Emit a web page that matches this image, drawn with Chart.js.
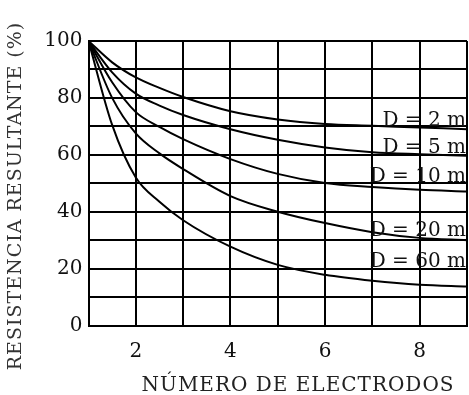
<!DOCTYPE html>
<html>
<head>
<meta charset="utf-8">
<script src="https://cdn.jsdelivr.net/npm/chart.js@4/dist/chart.umd.min.js"></script>
<style>
  html, body { margin: 0; padding: 0; background: #fff; }
  #wrap { width: 469px; height: 395px; position: relative; }
</style>
</head>
<body>
<div id="wrap"><canvas id="c" width="469" height="395"></canvas></div>
<script>
// Data
const electrodes = [1, 1.5, 2, 2.5, 3, 4, 5, 6, 7, 8, 9];
const seriesNames = ['D = 2 m', 'D = 5 m', 'D = 10 m', 'D = 20 m', 'D = 60 m'];
const d2  = [100, 92.5, 87.2, 83.5, 80.3, 75.3, 72.4, 70.8, 70.2, 69.6, 69];
const d5  = [100, 89, 81.5, 77.3, 74, 69, 65.3, 62.6, 60.9, 60.2, 59.7];
const d10 = [100, 85.5, 75, 69.8, 65.5, 58.5, 53.3, 50.1, 48.7, 47.7, 47.1];
const d20 = [100, 80, 67.5, 60.5, 55, 45.5, 40, 36, 32.8, 30.8, 30];
const d60 = [100, 70.5, 52, 43.5, 37, 27.7, 21.3, 17.8, 15.7, 14.3, 13.7];
// label anchors (value coordinates: x, y baseline)
const labelX = [9, 9, 9, 9, 9];
const labelY = [70, 60.6, 50.5, 31.3, 20.7];
const yTickLabels = [0, 20, 40, 60, 80, 100];
const xTickLabels = [2, 4, 6, 8];
const xTitle = 'NÚMERO DE ELECTRODOS';
const yTitle = 'RESISTENCIA RESULTANTE (%)';

const allSeries = [d2, d5, d10, d20, d60];
const FONT = '"DejaVu Serif", "Liberation Serif", serif';

const datasets = allSeries.map((s, i) => ({
  label: seriesNames[i],
  data: electrodes.map((x, j) => ({ x: x, y: s[j] })),
  borderColor: '#000',
  borderWidth: 2,
  pointRadius: 0,
  fill: false,
  cubicInterpolationMode: 'monotone',
  showLine: true
}));

const textPlugin = {
  id: 'texts',
  afterDraw(chart) {
    const ctx = chart.ctx;
    const xs = chart.scales.x, ys = chart.scales.y;
    ctx.save();
    ctx.fillStyle = '#111';
    ctx.font = '20px ' + FONT;
    ctx.textAlign = 'right';
    ctx.textBaseline = 'alphabetic';
    seriesNames.forEach((n, i) => {
      ctx.fillText(n, xs.getPixelForValue(labelX[i]) - 1, ys.getPixelForValue(labelY[i]));
    });
    // x title
    ctx.textAlign = 'center';
    ctx.textBaseline = 'middle';
    ctx.font = '20px ' + FONT;
    ctx.fillStyle = '#222';
    ctx.letterSpacing = '1px';
    ctx.fillText(xTitle, 298, 386);
    // y title
    ctx.translate(16, 196);
    ctx.rotate(-Math.PI / 2);
    ctx.font = '19px ' + FONT;
    ctx.fillStyle = '#333';
    ctx.fillText(yTitle, 0, 0);
    ctx.restore();
  }
};

new Chart(document.getElementById('c'), {
  type: 'scatter',
  data: { datasets },
  options: {
    responsive: false,
    animation: false,
    layout: { padding: { top: 41, right: 2, left: 0, bottom: 0 } },
    plugins: { legend: { display: false }, tooltip: { enabled: false } },
    scales: {
      x: {
        type: 'linear', min: 1, max: 9,
        afterFit(s) { s.height = 69.5; s.paddingLeft = 0; s.paddingRight = 0; },
        ticks: {
          stepSize: 1, padding: 14, color: '#111', maxRotation: 0,
          font: { family: FONT, size: 20 },
          callback: v => xTickLabels.includes(v) ? String(v) : ''
        },
        grid: { color: '#000', lineWidth: 2, drawTicks: false },
        border: { color: '#000', width: 2 }
      },
      y: {
        type: 'linear', min: 0, max: 100,
        afterFit(s) { s.width = 88.5; s.paddingTop = 0; s.paddingBottom = 0; },
        ticks: {
          stepSize: 10, padding: 6, color: '#111',
          font: { family: FONT, size: 20 },
          callback: v => yTickLabels.includes(v) ? String(v) : ''
        },
        grid: { color: '#000', lineWidth: 2, drawTicks: false },
        border: { color: '#000', width: 2 }
      }
    }
  },
  plugins: [textPlugin]
});
</script>
</body>
</html>
